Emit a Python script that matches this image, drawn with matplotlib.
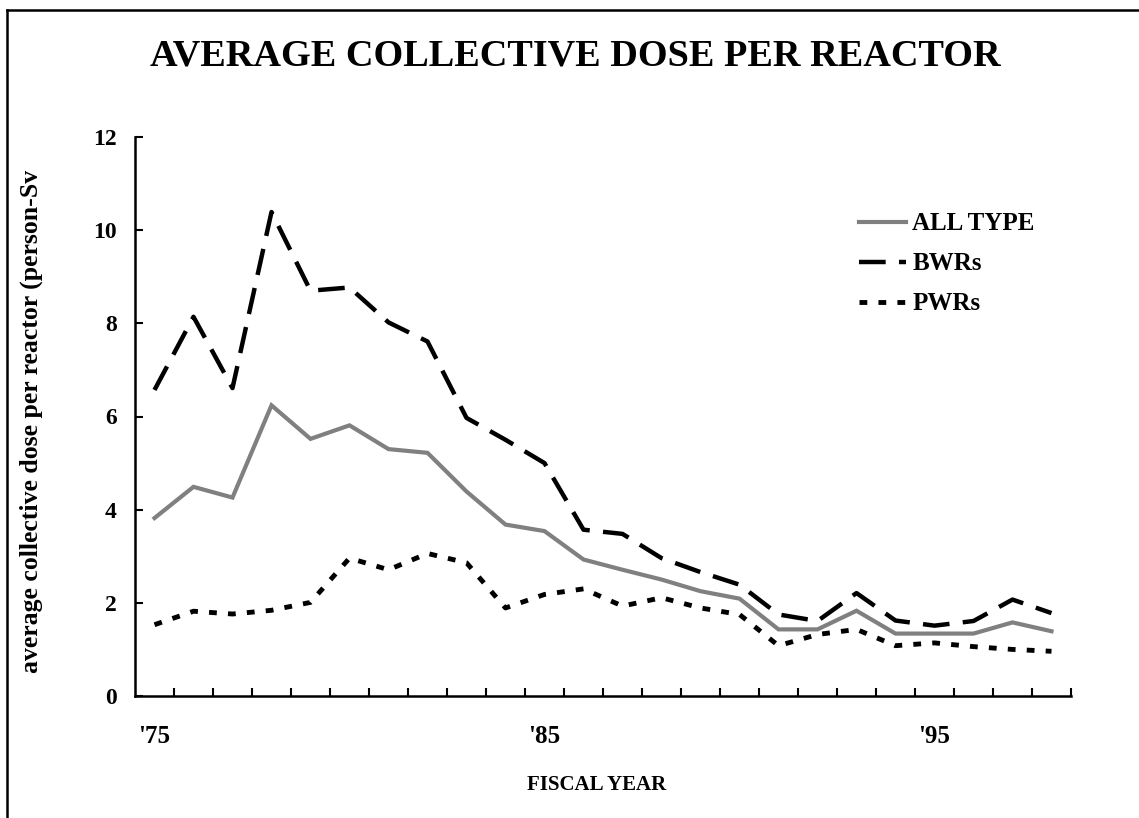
import matplotlib
matplotlib.use('Agg')
import matplotlib.pyplot as plt
from matplotlib.lines import Line2D

plt.rcParams['font.family'] = ['Liberation Serif', 'DejaVu Serif']
plt.rcParams['font.weight'] = 'bold'

# data, fiscal years 1975-1998
years = list(range(1975, 1999))
all_type = [3.82, 4.49, 4.26, 6.24, 5.52, 5.81, 5.30, 5.22, 4.39, 3.68, 3.54, 2.93,
            2.71, 2.50, 2.25, 2.09, 1.43, 1.43, 1.83, 1.34, 1.34, 1.34, 1.58, 1.39]
bwrs = [6.57, 8.14, 6.61, 10.39, 8.70, 8.77, 8.02, 7.61, 5.97, 5.50, 5.00, 3.57,
        3.48, 2.96, 2.66, 2.39, 1.75, 1.61, 2.21, 1.62, 1.51, 1.61, 2.07, 1.78]
pwrs = [1.53, 1.82, 1.76, 1.84, 2.01, 2.96, 2.71, 3.06, 2.86, 1.89, 2.18, 2.30,
        1.93, 2.11, 1.89, 1.75, 1.08, 1.32, 1.43, 1.08, 1.14, 1.06, 1.00, 0.96]
xlabels = ["'75", "'85", "'95"]
label_years = [1975, 1985, 1995]

W, H = 1139, 818
fig = plt.figure(figsize=(W / 100, H / 100), dpi=100)

# outer frame (top and left visible, runs off the picture on right/bottom)
fig.add_artist(Line2D([7 / W, 1.0], [1 - 10 / H, 1 - 10 / H], color='black', lw=1.8,
                      transform=fig.transFigure))
fig.add_artist(Line2D([7 / W, 7 / W], [0.0, 1 - 10 / H], color='black', lw=1.8,
                      transform=fig.transFigure))

ax = fig.add_axes([135 / W, (H - 696) / H, 936 / W, 559 / H])

x = [y - 1975 for y in years]
ax.plot(x, all_type, color='#808080', lw=3, solid_joinstyle='miter', label='ALL TYPE')
ax.plot(x, bwrs, color='black', lw=3.2, dashes=(6, 3), dash_capstyle='butt', label='BWRs')
ax.plot(x, pwrs, color='black', lw=3.5, dashes=(1.6, 2.3), dash_capstyle='butt', label='PWRs')

ax.set_xlim(-0.5, len(years) - 0.5)
ax.set_ylim(0, 12)
ax.set_yticks(range(0, 13, 2))
ax.set_xticks([y - 1975 for y in label_years])
ax.set_xticklabels(xlabels)
ax.set_xticks([i + 0.5 for i in range(len(years))], minor=True)
ax.tick_params(axis='x', which='major', length=0, pad=21, labelsize=18)
ax.tick_params(axis='x', which='minor', direction='in', length=6, width=1.5)
ax.tick_params(axis='y', direction='in', length=6, width=1.5, pad=13, labelsize=17)
for lab in ax.get_xticklabels() + ax.get_yticklabels():
    lab.set_fontweight('bold')

for s in ['top', 'right']:
    ax.spines[s].set_visible(False)
for s in ['left', 'bottom']:
    ax.spines[s].set_linewidth(1.8)

fig.text(575 / W, 1 - 56 / H, 'AVERAGE COLLECTIVE DOSE PER REACTOR', ha='center', va='center',
         fontsize=27.5, fontweight='bold')
fig.text(597 / W, 1 - 785 / H, 'FISCAL YEAR', ha='center', va='center',
         fontsize=15, fontweight='bold')
fig.text(31 / W, 1 - 421 / H, 'average collective dose per reactor (person-Sv', rotation=90,
         ha='center', va='center', fontsize=18.5, fontweight='bold')

leg = ax.legend(loc='upper left', bbox_to_anchor=(846 / W, 1 - 200 / H),
                bbox_transform=fig.transFigure, frameon=False, fontsize=18,
                handlelength=1.9, handletextpad=0.25, labelspacing=0.68, borderpad=0)
for t in leg.get_texts():
    t.set_fontweight('bold')

fig.savefig('out.png', dpi=100)
